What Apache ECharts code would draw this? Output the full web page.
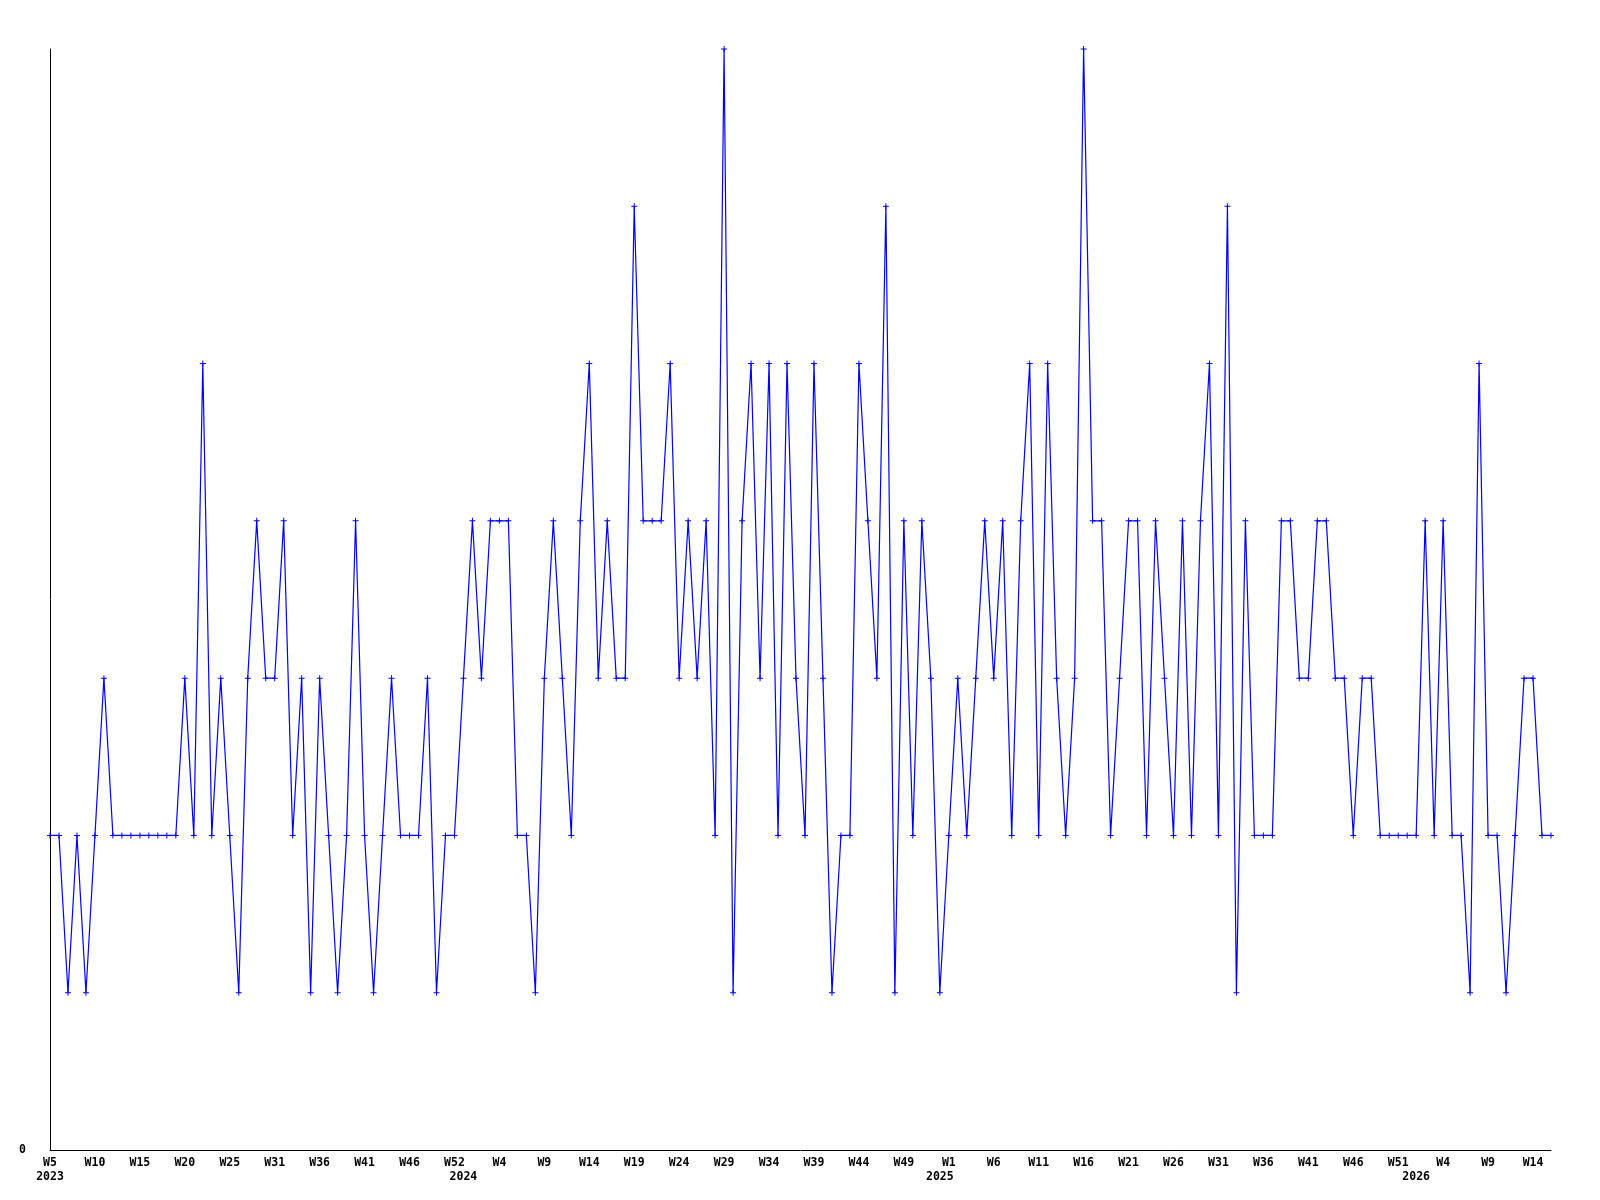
<!DOCTYPE html>
<html>
<head>
<meta charset="utf-8">
<script src="https://cdn.jsdelivr.net/npm/echarts@6/dist/echarts.min.js"></script>
<style>
html,body{margin:0;padding:0;background:#fff;}
#chart{width:1600px;height:1200px;}
</style>
</head>
<body>
<div id="chart"></div>
<script>
// Years and weeks covered by the series (2023 W5 .. 2026 W16)
const years = [2023, 2024, 2025, 2026];
const firstWeek = [5, 1, 1, 1];
const lastWeek = [52, 52, 52, 16];

// Weekly values, one array per year
const values2023 = [2,2,1,2,1,2,3,2,2,2,2,2,2,2,2,3,2,5,2,3,2,1,3,4,3,3,4,2,3,1,3,2,1,2,4,2,1,2,3,2,2,2,3,1,2,2,3,4];
const values2024 = [3,4,4,4,2,2,1,3,4,3,2,4,5,3,4,3,3,6,4,4,4,5,3,4,3,4,2,7,1,4,5,3,5,2,5,3,2,5,3,1,2,2,5,4,3,6,1,4,2,4,3,1];
const values2025 = [2,3,2,3,4,3,4,2,4,5,2,5,3,2,3,7,4,4,2,3,4,4,2,4,3,2,4,2,4,5,2,6,1,4,2,2,2,4,4,3,3,4,4,3,3,2,3,3,2,2,2,2];
const values2026 = [2,4,2,4,2,2,1,5,2,2,1,2,3,3,2,2];

// Tick labels shown along the x axis (one every 5th week slot)
const weekTickLabels = ["W5","W10","W15","W20","W25","W31","W36","W41","W46","W52",
  "W4","W9","W14","W19","W24","W29","W34","W39","W44","W49",
  "W1","W6","W11","W16","W21","W26","W31","W36","W41","W46","W51",
  "W4","W9","W14"];
const tickEvery = 5;
// Year labels and the week slot each sits under
const yearLabels = ["2023","2024","2025","2026"];
const yearLabelSlots = [0, 46, 99, 152];

// Build categories
const categories = [];
years.forEach((y, k) => {
  for (let w = firstWeek[k]; w <= lastWeek[k]; w++) categories.push(y + "-W" + w);
});
const seriesValues = [].concat(values2023, values2024, values2025, values2026);

const labelFont = {
  fontFamily: "DejaVu Sans Mono",
  fontWeight: "bold",
  fontSize: 11.5,
  color: "#000"
};

const chart = echarts.init(document.getElementById('chart'), null, {renderer: 'canvas'});
chart.setOption({
  animation: false,
  backgroundColor: '#ffffff',
  grid: {left: 50, right: 49, top: 49, bottom: 50, containLabel: false},
  xAxis: [
    {
      type: 'category',
      data: categories,
      boundaryGap: false,
      axisLine: {show: true, lineStyle: {color: '#000', width: 1}},
      axisTick: {show: false},
      splitLine: {show: false},
      axisLabel: Object.assign({
        margin: 7,
        interval: (i) => i % tickEvery === 0 && (i / tickEvery) < weekTickLabels.length,
        formatter: (v, i) => weekTickLabels[i / tickEvery] || ''
      }, labelFont)
    },
    {
      type: 'category',
      data: categories,
      boundaryGap: false,
      position: 'bottom',
      axisLine: {show: false},
      axisTick: {show: false},
      splitLine: {show: false},
      axisLabel: Object.assign({
        margin: 21,
        interval: (i) => yearLabelSlots.indexOf(i) >= 0,
        formatter: (v, i) => {
          const k = yearLabelSlots.indexOf(i);
          return k >= 0 ? yearLabels[k] : '';
        }
      }, labelFont)
    }
  ],
  yAxis: {
    type: 'value',
    min: 0,
    max: 7,
    interval: 7,
    axisLine: {show: true, lineStyle: {color: '#000', width: 1}},
    axisTick: {show: false},
    splitLine: {show: false},
    axisLabel: Object.assign({
      margin: 24,
      formatter: (v) => v === 0 ? '0' : ''
    }, labelFont)
  },
  series: [{
    type: 'line',
    data: seriesValues,
    xAxisIndex: 0,
    showAllSymbol: true,
    symbol: 'path://M0,2.5H6V3.5H0ZM2.5,0H3.5V6H2.5Z',
    symbolSize: 6,
    itemStyle: {color: '#0000ff'},
    lineStyle: {color: '#0000ff', width: 1.2},
    emphasis: {disabled: true}
  }]
});
</script>
</body>
</html>
